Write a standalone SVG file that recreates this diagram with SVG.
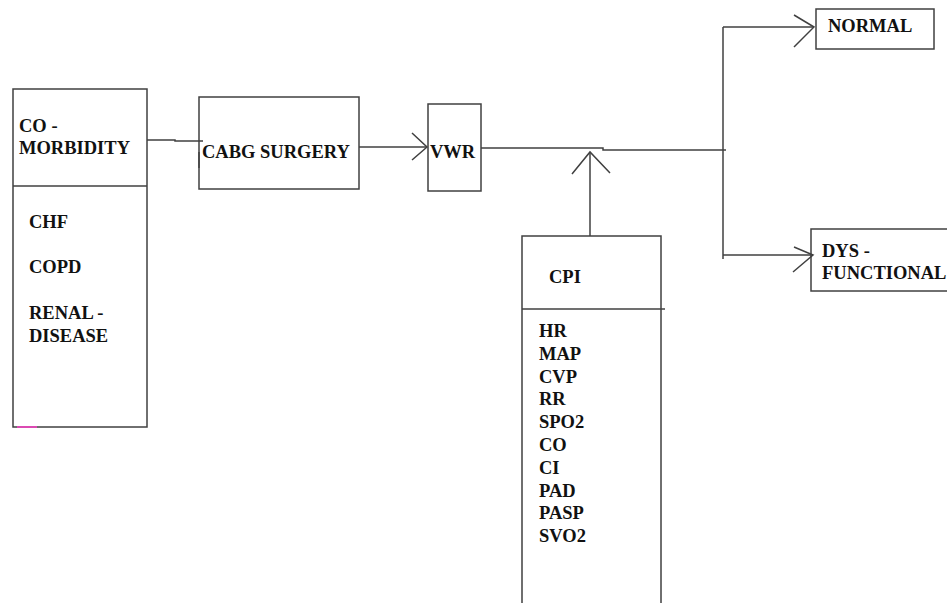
<svg xmlns="http://www.w3.org/2000/svg" width="947" height="603" viewBox="0 0 947 603">
<style>
.box{fill:#fff;stroke:#404040;stroke-width:1.5}
.ln{fill:none;stroke:#404040;stroke-width:1.5}
text{font-family:"Liberation Serif","Times New Roman",serif;font-weight:bold;font-size:18.5px;fill:#111}
</style>
<rect width="947" height="603" fill="#fff"/>
<g id="comorbidity">
<rect class="box" x="13" y="89" width="134" height="338"/>
<line class="ln" x1="13" y1="186" x2="147" y2="186" stroke-width="2"/>
<line x1="17" y1="427" x2="37" y2="427" stroke="#ff3ec8" stroke-width="1.5"/>
<text x="19" y="132">CO -</text>
<text x="19" y="154">MORBIDITY</text>
<text x="29" y="228">CHF</text>
<text x="29" y="273">COPD</text>
<text x="29" y="319">RENAL -</text>
<text x="29" y="342">DISEASE</text>
</g>
<g id="cabg">
<rect class="box" x="199" y="97" width="160" height="92"/>
<text x="202" y="158">CABG SURGERY</text>
</g>
<g id="vwr">
<rect class="box" x="428" y="104" width="53" height="87"/>
<text x="430" y="158">VWR</text>
</g>
<g id="normal">
<rect class="box" x="816" y="9" width="118" height="40"/>
<text x="828" y="32">NORMAL</text>
</g>
<g id="dysfunctional">
<rect class="box" x="811" y="229" width="145" height="62"/>
<text x="822" y="257">DYS -</text>
<text x="822" y="279">FUNCTIONAL</text>
</g>
<g id="cpi">
<rect class="box" x="522" y="236" width="139" height="380"/>
<line class="ln" x1="522" y1="309" x2="665" y2="309"/>
<text x="549" y="283">CPI</text>
<text x="539" y="337">HR</text>
<text x="539" y="360">MAP</text>
<text x="539" y="383">CVP</text>
<text x="539" y="405">RR</text>
<text x="539" y="428">SPO2</text>
<text x="539" y="451">CO</text>
<text x="539" y="474">CI</text>
<text x="539" y="497">PAD</text>
<text x="539" y="519">PASP</text>
<text x="539" y="542">SVO2</text>
</g>
<g id="connectors">
<polyline class="ln" points="147,140 175,140 175,141 203,141"/>
<line class="ln" x1="199" y1="152" x2="199" y2="168"/>
<line class="ln" x1="359" y1="147" x2="427" y2="147"/>
<polyline class="ln" points="412,133 427,147 412,160"/>
<polyline class="ln" points="481,148 603,148 603,150 726,150"/>
<line class="ln" x1="723" y1="27" x2="723" y2="259"/>
<line class="ln" x1="723" y1="27" x2="814" y2="27"/>
<polyline class="ln" points="794,15 814,27 794,47"/>
<line class="ln" x1="723" y1="255" x2="813" y2="255"/>
<polyline class="ln" points="794,247 813,255 793,272"/>
<line class="ln" x1="590" y1="236" x2="590" y2="152"/>
<polyline class="ln" points="572,174 590,152 610,173"/>
</g>
</svg>
